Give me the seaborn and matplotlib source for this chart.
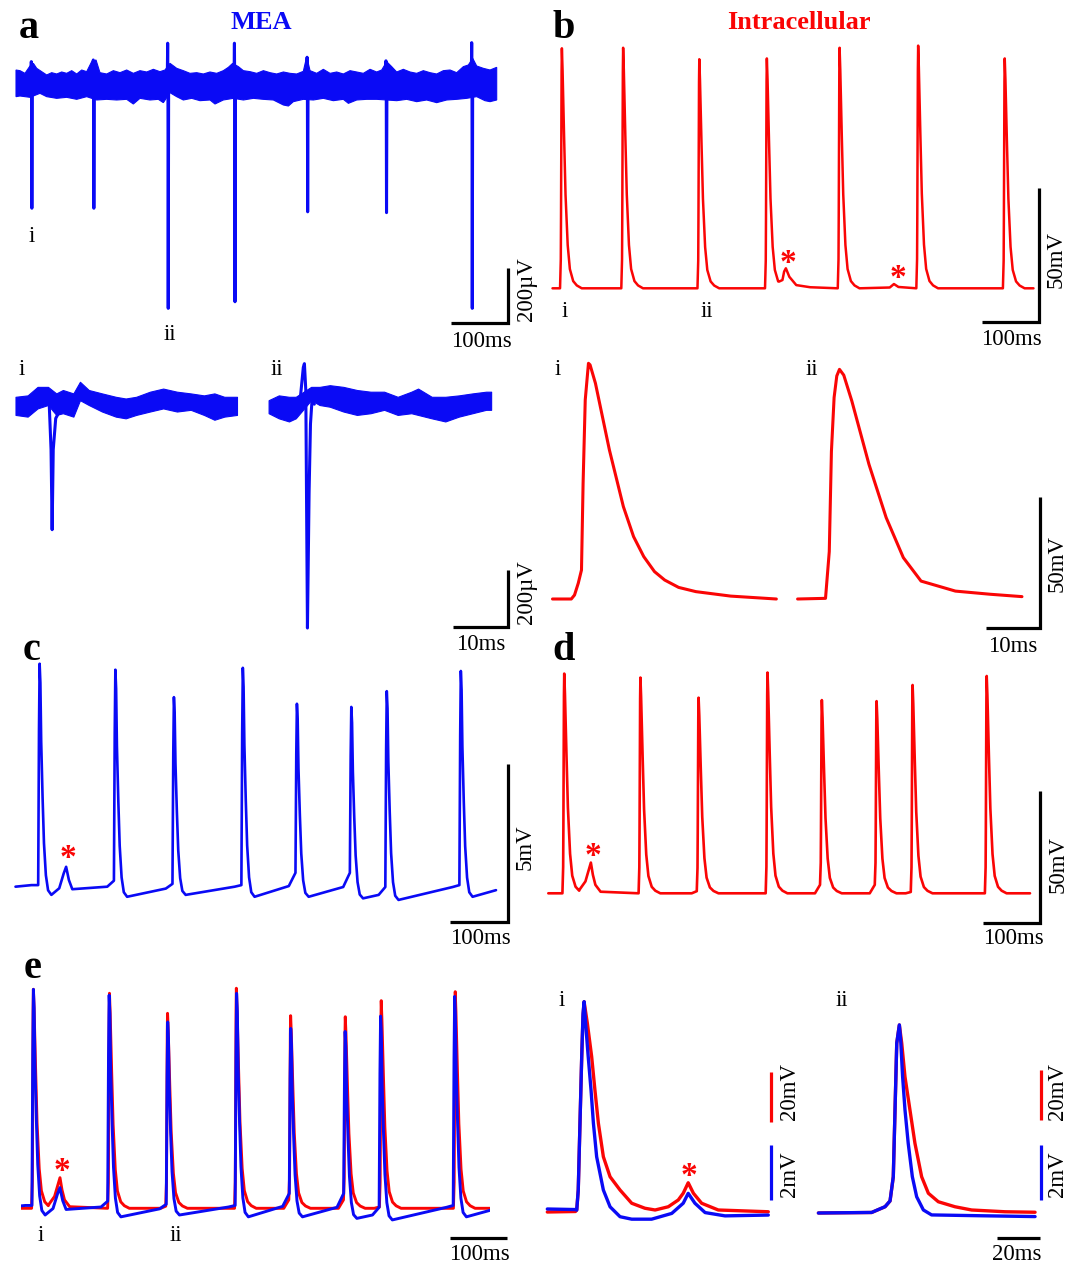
import numpy as np
import pandas as pd
import matplotlib
matplotlib.use("Agg")
import matplotlib.pyplot as plt
import seaborn as sns

sns.set_style("white")
plt.rcParams["font.family"] = ["Liberation Serif", "DejaVu Serif"]

W, H = 1083, 1268
BLUE = "#0a0af5"
RED = "#fa0505"

# ====================== DATA ======================
# (a) MEA extracellular trace: time (ms), voltage (µV); noise band upper / lower edge
a_hi_t = [0.9, 7.9, 16.7, 25.5, 31.4, 37.3, 46.1, 54.9, 63.7, 72.5, 81.3, 90.1, 98.9, 107.7, 116.5,
          125.3, 134.1, 141.7, 148.7, 160.5, 172.2, 183.9, 195.7, 207.4, 219.1, 230.9, 242.6, 254.3,
          263.1, 271.9, 283.7, 295.4, 307.1, 318.9, 330.6, 342.3, 354.1, 365.8, 374.6, 382.3, 392.3,
          401.1, 412.8, 424.5, 436.3, 448.0, 459.7, 471.5, 483.2, 494.9, 506.6, 512.5, 518.4, 530.1,
          541.8, 553.6, 565.3, 577.0, 588.8, 600.5, 612.2, 624.0, 635.7, 644.5, 653.3, 662.1, 670.9,
          682.6, 694.4, 706.1, 717.8, 729.6, 741.3, 753.0, 764.8, 776.5, 788.2, 797.0, 804.7, 811.7,
          823.4, 835.2, 846.9]
a_hi_v = [54.5, 52.1, 42.4, 69.1, 78.8, 60.6, 48.5, 36.4, 44.8, 40.0, 47.3, 42.4, 52.1, 40.0, 54.5,
          48.5, 84.8, 90.9, 44.8, 40.0, 52.1, 44.8, 54.5, 42.4, 52.1, 47.3, 57.0, 48.5,
          54.5, 78.8, 60.6, 52.1, 42.4, 44.8, 40.0, 47.3, 42.4, 52.1, 64.2, 78.8, 66.7,
          52.1, 48.5, 42.4, 52.1, 44.8, 40.0, 47.3, 42.4, 40.0, 49.7, 103.0, 52.1, 42.4,
          57.0, 42.4, 47.3, 40.0, 52.1, 47.3, 42.4, 57.0, 47.3, 54.5, 84.8, 66.7, 47.3,
          57.0, 47.3, 42.4, 52.1, 44.8, 40.0, 52.1, 54.5, 44.8, 66.7, 72.7, 97.0, 69.1,
          60.6, 54.5, 64.2]
a_lo_t = [0.9, 7.9, 25.5, 43.1, 54.9, 72.5, 90.1, 107.7, 125.3, 142.9, 160.5, 178.1, 195.7, 207.4,
          219.1, 236.7, 251.4, 260.2, 271.9, 283.7, 295.4, 310.1, 324.7, 342.3, 351.1, 365.8, 383.4,
          401.1, 418.7, 436.3, 453.9, 471.5, 480.3, 489.0, 506.6, 524.2, 541.8, 559.4, 577.0, 585.9,
          600.5, 618.1, 635.7, 653.3, 670.9, 688.5, 706.1, 723.7, 741.3, 758.9, 776.5, 794.1, 811.7,
          826.3, 835.2, 846.9]
a_lo_v = [-42.4, -40.0, -44.8, -30.3, -42.4, -48.5, -44.8, -52.1, -42.4, -54.5, -52.1, -54.5, -52.1,
          -69.1, -48.5, -54.5, -52.1, -64.2, -27.9, -42.4, -54.5, -48.5, -57.0, -54.5, -69.1, -54.5,
          -48.5, -54.5, -48.5, -52.1, -54.5, -72.7, -76.4, -60.6, -52.1, -54.5, -48.5, -57.0, -52.1,
          -66.7, -54.5, -52.1, -52.1, -54.5, -57.0, -52.1, -60.6, -54.5, -64.2, -54.5, -52.1, -48.5,
          -42.4, -57.0, -60.6, -54.5]
a_spike_t = [28.5, 137.6, 268.5, 386.0, 513.9, 652.7, 803.6]
a_spike_up = [85, 91, 152, 152, 101, 88, 154]
a_spike_dn = [-448, -448, -812, -788, -461, -464, -812]

# (a-i) zoomed MEA spike
ai_noise_t = [0, 2.2, 4.0, 5.9, 7.4, 8.6, 10.5, 11.7, 13.3, 15.7, 18.2, 20.0, 21.9, 24.4, 26.8,
              29.3, 31.8, 34.2, 36.1, 37.9, 40.2]
ai_noise_hi = [36, 41, 71, 71, 48, 60, 48, 89, 60, 48, 36, 30, 36, 54, 65, 54, 48, 41, 48, 36, 36]
ai_noise_lo = [-28, -34, -5, 7, -28, -22, -34, 24, 7, -16, -34, -40, -28, -16, -5, -16, -10, -28,
               -45, -34, -28]
ai_spike_t = [6.1, 6.45, 6.65, 6.85, 7.3, 8.0]
ai_spike_v = [20, -150, -433, -150, -40, -15]
# (a-ii) zoomed MEA spike
aii_noise_t = [0, 1.85, 3.70, 4.93, 7.71, 9.25, 11.10, 13.57, 16.03, 18.50, 20.97, 23.43, 25.90,
               27.13, 29.60, 32.07, 34.53, 37.00, 39.47, 40.39]
aii_noise_hi = [24, 41, 36, 36, 71, 71, 77, 71, 60, 54, 54, 36, 54, 65, 36, 36, 41, 48, 54, 54]
aii_noise_lo = [-22, -40, -51, -40, 24, 7, 1, -16, -28, -22, -10, -28, -22, -28, -40, -51, -34,
                -22, -10, -10]
aii_spike_t = [5.0, 5.8, 6.3, 6.5, 6.75, 7.05, 7.35, 7.6, 7.9, 8.3]
aii_spike_v = [0, 40, 140, 153, 60, -780, -300, -60, 30, 10]

# (b) intracellular trace: ms, mV
b_spike_t = [16.4, 123.6, 256.9, 375.1, 502.4, 639.9, 791.4]
b_spike_amp = [90.0, 90.2, 85.9, 86.2, 90.2, 91.0, 86.2]
b_evt1_t = [396.3, 402.4, 405.4, 408.4, 414.5, 426.6, 450.9]
b_evt1_v = [2.5, 3.1, 6.3, 7.5, 4.3, 1.2, 0.4]
b_evt2_t = [590.2, 597.5, 605.4]
b_evt2_v = [0.3, 1.6, 0.5]
b_end = 841.7
b_star_t = [411.5, 605.4]
b_star_v = [12.5, 6.9]

# (b-i), (b-ii) zoomed action potentials
bi_t = [0, 3.5, 4.1, 4.8, 5.4, 5.7, 6.1, 6.7, 7.0, 8.0, 10.6, 13.2, 15.1, 17.0, 19.0, 20.9, 23.5,
        26.7, 33.2, 41.7]
bi_v = [0, 0, 1.5, 6, 11, 44, 75.6, 89.5, 88.9, 81.9, 56.6, 35.1, 23.7, 16.1, 10.4, 7.2, 4.4,
        2.8, 1.1, 0]
bii_t = [0, 5.2, 5.9, 6.3, 6.8, 7.3, 7.8, 8.6, 10.1, 13.3, 16.5, 19.7, 23.0, 29.4, 35.9, 41.8]
bii_v = [0, 0.25, 18, 56, 76.5, 84.7, 87.2, 85, 75.2, 51.1, 30.9, 15.7, 6.8, 3.0, 1.8, 0.9]

# spike waveform templates: time from peak (ms), fraction of peak
red_tpl_dt = [-3.2, -1.9, -1.5, -0.5, 0, 1.2, 3.9, 6.4, 10.2, 14.0, 19.8, 26.1, 34.8]
red_tpl_f = [0.0, 0.12, 0.3, 0.9, 1.0, 0.91, 0.63, 0.39, 0.18, 0.08, 0.03, 0.012, 0.0]
blue_tpl_dt = [-2.5, -1.1, 0, 1.3, 2.7, 5.1, 7.5, 10.8, 14.6, 20.3]
blue_tpl_f = [0.0, 0.70, 1.0, 0.917, 0.663, 0.422, 0.224, 0.085, 0.02, 0.0]

# (c) MEA recording after electroporation: ms, mV
c_spike_t = [41.7, 172.6, 273.8, 392.9, 486.4, 580.4, 641.7, 769.7]
c_peak = [7.08, 6.89, 6.02, 6.95, 5.81, 5.71, 6.21, 6.85]
c_pre = [0.06, 0.01, -0.05, 0.01, 0.03, 0.0, -0.25, 0.0]
c_base = [0.06, 0.2, 0.1, 0.06, 0.45, 0.45, 0.0, 0.06]
c_ahp = [-0.25, -0.31, -0.25, -0.31, -0.31, -0.36, -0.41, -0.31]
c_evt_t = [75.6, 83.3, 87.5, 92.3, 98.2]
c_evt_v = [-0.04, 0.43, 0.64, 0.22, -0.07]
c_start, c_end = (0.0, 0.01), (830.5, -0.1)
c_star = (91.1, 1.17)

# (d) intracellular recording: ms, mV
d_spike_t = [27.9, 161.2, 263.0, 383.6, 478.7, 574.5, 637.5, 767.2]
d_peak = [83.0, 81.5, 73.9, 83.4, 73.0, 72.6, 78.7, 82.1]
d_base = [0, 0, 0.8, 0, 3.2, 3.2, 0.5, 0]
d_evt_t = [55.1, 65.0, 71.0, 74.5, 78.0, 82.4, 91.5]
d_evt_v = [1.5, 4.5, 9.0, 11.6, 7.0, 3.2, 0.6]
d_end = 843.0
d_star = (77.6, 17.0)

# (e-i), (e-ii) overlays: ms, red in mV (intracellular), blue in mV (MEA)
ei_red_t = [0, 13.0, 13.6, 14.3, 15.1, 15.9, 16.5, 17.0, 18.5, 20.5, 22.0, 23.6, 25.9, 29.0, 33.6,
            39.0, 45.1, 49.8, 55.9, 60.5, 62.8, 65.1, 67.5, 71.3, 79.0, 102.1]
ei_red_v = [0, 0.2, 0.8, 8.8, 35.5, 62.1, 78.1, 84.1, 75.5, 62.1, 48.8, 35.5, 22.1, 14.1, 8.8,
            3.5, 1.5, 0.8, 2.1, 4.8, 7.5, 11.7, 7.5, 3.5, 0.8, 0.1]
ei_blue_t = [0, 13.0, 13.6, 14.3, 15.1, 15.9, 16.5, 17.0, 17.7, 18.9, 20.2, 21.3, 22.8, 25.9, 29.0,
             33.6, 39.0, 48.2, 57.5, 62.8, 65.1, 68.2, 72.9, 82.1, 102.1]
ei_blue_v = [0, -0.02, -0.04, 0.69, 3.12, 5.54, 7.1, 7.54, 6.75, 5.54, 4.33, 3.12, 1.90, 0.69, 0.08,
             -0.28, -0.37, -0.37, -0.16, 0.21, 0.57, 0.21, -0.13, -0.25, -0.22]
ei_star = (65.6, 17.5)
eii_red_t = [0, 24.6, 30.8, 33.1, 34.6, 35.4, 36.2, 37.4, 38.5, 40.0, 42.3, 44.6, 47.7, 50.8, 55.4,
             63.1, 70.8, 86.2, 100.1]
eii_red_v = [0, 0.2, 2.5, 4.8, 14.5, 41.2, 67.9, 75.2, 67.9, 54.5, 41.2, 27.9, 14.5, 7.9, 4.5,
             2.5, 1.2, 0.5, 0.3]
eii_blue_t = [0, 24.6, 30.8, 33.1, 34.6, 35.4, 36.2, 37.4, 38.0, 38.9, 40.0, 41.5, 43.4, 45.4, 48.5,
              52.3, 75.0, 100.1]
eii_blue_v = [0, 0.02, 0.23, 0.44, 1.32, 3.75, 6.18, 6.84, 6.3, 4.96, 3.75, 2.53, 1.32, 0.59, 0.11,
              -0.07, -0.1, -0.13]

# ====================== HELPERS ======================
fig = plt.figure(figsize=(W / 100, H / 100), dpi=100)


def mk(box, m):
    x0, x1, y0, y1 = box
    ax = fig.add_axes([x0 / W, 1 - y1 / H, (x1 - x0) / W, (y1 - y0) / H])
    tp, ms, vp, u = m
    ax.set_xlim((x0 - tp) * ms, (x1 - tp) * ms)
    ax.set_ylim((vp - y1) * u, (vp - y0) * u)
    ax.axis("off")
    return ax


def px2d(m, x, y):
    return (x - m[0]) * m[1], (m[2] - y) * m[3]


def sbar(ax, m, xc, yc, tl=None, vl=None, color="black", lw=2.3):
    tc, vc = px2d(m, xc, yc)
    xs, ys = [], []
    if tl:
        xs.append(tc - tl); ys.append(vc)
    xs.append(tc); ys.append(vc)
    if vl:
        xs.append(tc); ys.append(vc + vl)
    ax.plot(xs, ys, color=color, lw=lw, clip_on=False,
            solid_capstyle="butt", solid_joinstyle="miter")


def trace(ax, t, v, color, lw, units=None):
    df = pd.DataFrame({"t": t, "v": v})
    if units is not None:
        df["u"] = units
        sns.lineplot(data=df, x="t", y="v", units="u", sort=False, estimator=None,
                     color=color, linewidth=lw, ax=ax, legend=False)
    else:
        sns.lineplot(data=df, x="t", y="v", sort=False, estimator=None,
                     color=color, linewidth=lw, ax=ax, legend=False)


def ftext(x, y, s, **kw):
    fig.text(x / W, 1 - y / H, s, **kw)


def star(ax, t, v, size=24):
    ax.annotate("*", xy=(t, v), xytext=(0, -0.5 * size), textcoords="offset points",
                ha="center", va="baseline", color=RED, fontsize=size,
                fontweight="bold", annotation_clip=False)


def assemble(segs, start, end):
    segs = sorted(segs, key=lambda s: s[0][0])
    out = [start]
    for i, s in enumerate(segs):
        nxt = segs[i + 1][0][0] if i + 1 < len(segs) else end[0]
        out += [p for p in s if p[0] < nxt]
    out.append(end)
    return [p[0] for p in out], [p[1] for p in out]


def red_train(ts, peaks, bases, events, end):
    segs = []
    for t, p, b in zip(ts, peaks, bases):
        pts = [(t - 12, 0.0)] if b > 0 else []
        for dt, f in zip(red_tpl_dt, red_tpl_f):
            pts.append((t + dt, b + f * (p - b) if dt <= 0 else f * p))
        segs.append(pts)
    for et, ev in events:
        segs.append(list(zip(et, ev)))
    return assemble(segs, (0.0, 0.0), (end, 0.0))


def blue_train(ts, peaks, bases, pres, ahps, events, start, end):
    segs = []
    for t, p, b, pr, ah in zip(ts, peaks, bases, pres, ahps):
        pts = [(t - 14, pr)]
        for dt, f in zip(blue_tpl_dt, blue_tpl_f):
            pts.append((t + dt, b + f * (p - b) if dt <= 0 else ah + f * (p - ah)))
        segs.append(pts)
    for et, ev in events:
        segs.append(list(zip(et, ev)))
    return assemble(segs, start, end)


TXT = dict(fontsize=16.5, color="black", ha="center", va="center")
LET = dict(fontsize=29, fontweight="bold", color="black", ha="left", va="baseline")

# ====================== PANEL a ======================
mA = (15.5, 1.760, 85.0, 3.636)
ax = mk((0, 540, 35, 345), mA)
ax.fill(a_hi_t + a_lo_t[::-1], a_hi_v + a_lo_v[::-1], color=BLUE, lw=0.8)
sp_t, sp_v, sp_u = [], [], []
for k, (t, u, dn) in enumerate(zip(a_spike_t, a_spike_up, a_spike_dn)):
    for dt, v in zip([-1.5, -0.7, -0.2, 0.3, 1.0, 2.0], [0, u, 0, dn, -20, 0]):
        sp_t.append(t + dt); sp_v.append(v); sp_u.append(k)
trace(ax, sp_t, sp_v, BLUE, 2.2, units=sp_u)
sbar(ax, mA, 508.0, 323.3, tl=100, vl=200)
ftext(18.9, 38.3, "a", **LET)
ftext(260.9, 29.3, "MEA", fontsize=19, fontweight="bold", color=BLUE, ha="center", va="baseline")
ftext(31.7, 236.7, "i", **TXT)
ftext(169.4, 334.2, "ii", **TXT)
ftext(526.9, 289.2, "200µV", rotation=90, **TXT)
ftext(481.3, 341.7, "100ms", **TXT)

# a-i / a-ii
mA2 = (15.5, 0.1815, 407.0, 3.529)
ax = mk((0, 540, 352, 650), mA2)
ax.fill_between(ai_noise_t, ai_noise_lo, ai_noise_hi, color=BLUE, lw=0.8, edgecolor=BLUE)
trace(ax, ai_spike_t, ai_spike_v, BLUE, 2.2)
off = (268.6 - 15.5) * mA2[1]
ax.fill_between([t + off for t in aii_noise_t], aii_noise_lo, aii_noise_hi, color=BLUE, lw=0.8,
                edgecolor=BLUE)
trace(ax, [t + off for t in aii_spike_t], aii_spike_v, BLUE, 2.2)
sbar(ax, mA2, 508.0, 626.7, tl=10, vl=200)
ftext(21.4, 369.2, "i", **TXT)
ftext(277.2, 369.2, "ii", **TXT)
ftext(526.0, 592.5, "200µV", rotation=90, **TXT)
ftext(480.4, 645.0, "10ms", **TXT)

# ====================== PANEL b ======================
mB = (552.5, 1.750, 288.3, 0.375)
ax = mk((540, 1083, 35, 345), mB)
bt, bv = red_train(b_spike_t, b_spike_amp, [0] * len(b_spike_t),
                   [(b_evt1_t, b_evt1_v), (b_evt2_t, b_evt2_v)], b_end)
trace(ax, bt, bv, RED, 1.8)
for t, v in zip(b_star_t, b_star_v):
    star(ax, t, v)
sbar(ax, mB, 1038.7, 321.7, tl=100, vl=50)
ftext(552.1, 38.3, "b", **LET)
ftext(798.9, 29.3, "Intracellular", fontsize=19, fontweight="bold", color=RED,
      ha="center", va="baseline")
ftext(564.9, 311.7, "i", **TXT)
ftext(706.9, 311.7, "ii", **TXT)
ftext(1056.5, 259.2, "50mV", rotation=90, **TXT)
ftext(1011.9, 339.2, "100ms", **TXT)

# b-i / b-ii
mB2 = (552.5, 0.1863, 599.0, 0.3797)
ax = mk((540, 1083, 352, 650), mB2)
trace(ax, bi_t, bi_v, RED, 2.2)
off = (797.6 - 552.5) * mB2[1]
trace(ax, [t + off for t in bii_t], bii_v, RED, 2.2)
sbar(ax, mB2, 1039.7, 628.3, tl=10, vl=50)
ftext(557.3, 369.2, "i", **TXT)
ftext(811.8, 369.2, "ii", **TXT)
ftext(1057.5, 563.3, "50mV", rotation=90, **TXT)
ftext(1012.7, 646.7, "10ms", **TXT)

# ====================== PANEL c ======================
mC = (15.5, 1.7284, 887.0, 0.03171)
ax = mk((0, 540, 650, 960), mC)
ct, cv = blue_train(c_spike_t, c_peak, c_base, c_pre, c_ahp, [(c_evt_t, c_evt_v)], c_start, c_end)
trace(ax, ct, cv, BLUE, 1.9)
star(ax, *c_star)
sbar(ax, mC, 508.0, 921.7, tl=100, vl=5)
ftext(22.4, 660.0, "c", **LET)
ftext(525.0, 847.5, "5mV", rotation=90, **TXT)
ftext(480.4, 938.3, "100ms", **TXT)

# ====================== PANEL d ======================
mD = (548.3, 1.750, 893.3, 0.3778)
ax = mk((540, 1083, 650, 960), mD)
dt_, dv_ = red_train(d_spike_t, d_peak, d_base, [(d_evt_t, d_evt_v)], d_end)
trace(ax, dt_, dv_, RED, 1.9)
star(ax, *d_star)
sbar(ax, mD, 1040.4, 923.3, tl=100, vl=50)
ftext(552.1, 660.0, "d", **LET)
ftext(1058.5, 864.2, "50mV", rotation=90, **TXT)
ftext(1013.5, 938.3, "100ms", **TXT)

# ====================== PANEL e (overlay) ======================
mER = (17.48, 1.7526, 1208.3, 0.379)
mEB = (9.27, 1.7282, 1207.3, 0.03248)
axr = mk((20.7, 489.7, 975, 1232), mER)
trace(axr, dt_, dv_, RED, 2.1)
axb = mk((20.7, 489.7, 975, 1232), mEB)
trace(axb, ct, cv, BLUE, 2.1)
star(axr, *d_star)
sbar(axr, mER, 506.9, 1238.3, tl=100)
ftext(24.1, 978.0, "e", **LET)
ftext(40.6, 1235.8, "i", **TXT)
ftext(175.6, 1235.8, "ii", **TXT)
ftext(479.6, 1255.0, "100ms", **TXT)

# e-i
mEiR = (547.3, 0.462, 1212.0, 0.4)
mEiB = (547.3, 0.462, 1209.0, 0.03636)
axr = mk((545, 800, 980, 1240), mEiR)
trace(axr, ei_red_t, ei_red_v, RED, 2.4)
axb = mk((545, 800, 980, 1240), mEiB)
trace(axb, ei_blue_t, ei_blue_v, BLUE, 2.4)
star(axr, *ei_star)
sbar(axr, mEiR, 771.0, 1121.7, vl=20, color=RED, lw=2.3)
sbar(axb, mEiB, 771.0, 1200.0, vl=2, color=BLUE, lw=2.3)
ftext(561.5, 1000.0, "i", **TXT)
ftext(789.4, 1091.7, "20mV", rotation=90, **TXT)
ftext(789.4, 1174.2, "2mV", rotation=90, **TXT)

# e-ii
mEiiR = (818.4, 0.462, 1213.0, 0.4)
mEiiB = (818.4, 0.462, 1213.0, 0.03636)
axr = mk((805, 1083, 980, 1240), mEiiR)
trace(axr, eii_red_t, eii_red_v, RED, 2.4)
axb = mk((805, 1083, 980, 1240), mEiiB)
trace(axb, eii_blue_t, eii_blue_v, BLUE, 2.4)
sbar(axr, mEiiR, 1041.1, 1120.0, vl=20, color=RED, lw=2.3)
sbar(axb, mEiiB, 1041.1, 1200.0, vl=2, color=BLUE, lw=2.3)
sbar(axr, mEiiR, 1040.4, 1238.3, tl=20)
ftext(842.3, 1000.0, "ii", **TXT)
ftext(1057.6, 1091.7, "20mV", rotation=90, **TXT)
ftext(1057.6, 1174.2, "2mV", rotation=90, **TXT)
ftext(1017.0, 1255.0, "20ms", **TXT)

fig.savefig("out.png", dpi=100)
